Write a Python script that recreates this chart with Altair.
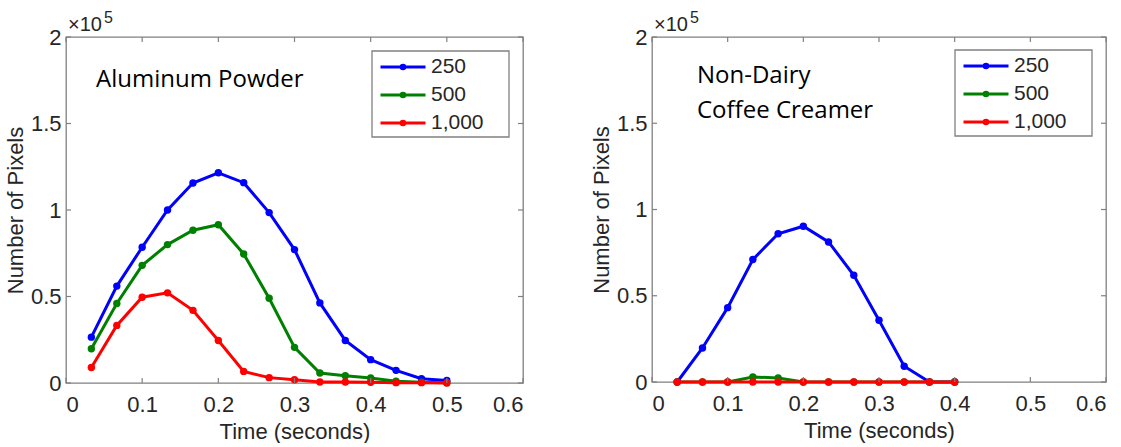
import altair as alt
import pandas as pd

# ---------------- data ----------------
time_s = [0.0333, 0.0667, 0.1, 0.1333, 0.1667, 0.2, 0.2333, 0.2667, 0.3,
          0.3333, 0.3667, 0.4, 0.4333, 0.4667, 0.5]
series_names = ["250", "500", "1,000"]
series_colors = ["#0000ff", "#008000", "#ff0000"]

# Aluminum Powder (pixels)
al_250 = [26500, 56000, 78500, 100000, 115600, 121500, 115800, 98500, 77100,
          46300, 24600, 13500, 7300, 2500, 1500]
al_500 = [19800, 46000, 68000, 80000, 88300, 91500, 74600, 49000, 20600,
          5800, 4200, 2900, 1000, 400, 200]
al_1000 = [9000, 33300, 49600, 52100, 42000, 24600, 6700, 3100, 1900,
           600, 600, 400, 200, 200, 0]

# Non-Dairy Coffee Creamer (pixels)
cr_time = time_s[:12]
cr_250 = [0, 19700, 43100, 71000, 85900, 90300, 81200, 61900, 35800, 9100, 0, 0]
cr_500 = [0, 0, 0, 2900, 2300, 0, 0, 0, 0, 0, 0, 0]
cr_1000 = [0, 0, 0, 0, 0, 0, 0, 0, 0, 0, 0, 0]

x_ticks = [0, 0.1, 0.2, 0.3, 0.4, 0.5, 0.6]
y_ticks = [0, 50000, 100000, 150000, 200000]

left_note = ["Aluminum Powder"]
right_note = ["Non-Dairy", "Coffee Creamer"]


def long_df(times, series):
    rows = []
    for name, vals in zip(series_names, series):
        for t, v in zip(times, vals):
            rows.append({"t": t, "px": v, "series": name})
    return pd.DataFrame(rows)


df_left = long_df(time_s, [al_250, al_500, al_1000])
df_right = long_df(cr_time, [cr_250, cr_500, cr_1000])

LABEL_FONT = "Liberation Sans"
TXT = "#262626"
FRAME = "#808080"
FS = 22

sym_path = ("M-1,0L1,0M0.08,0A0.08,0.08,0,1,1,-0.08,0"
            "A0.08,0.08,0,1,1,0.08,0Z")


def panel(df, note_lines, note_x, note_y, leg_x, leg_y, W, H):
    xenc = alt.X("t:Q", scale=alt.Scale(domain=[0, 0.6], nice=False, zero=False),
                 axis=alt.Axis(values=x_ticks, format="~g", title="Time (seconds)",
                               grid=False, domain=False, ticks=False, tickSize=0,
                               labelFont=LABEL_FONT, labelFontSize=FS,
                               labelColor=TXT, labelPadding=11,
                               titleFont=LABEL_FONT, titleFontSize=FS,
                               titleFontWeight="normal", titleColor=TXT,
                               titlePadding=6))
    yenc = alt.Y("px:Q", scale=alt.Scale(domain=[0, 200000], nice=False),
                 axis=alt.Axis(values=y_ticks,
                               labelExpr="format(datum.value / 100000, '~g')",
                               title="Number of Pixels", grid=False,
                               domain=False, ticks=False, tickSize=0,
                               labelFont=LABEL_FONT, labelFontSize=FS,
                               labelColor=TXT, labelPadding=5,
                               titleFont=LABEL_FONT, titleFontSize=FS,
                               titleFontWeight="normal", titleColor=TXT,
                               titlePadding=3))
    cscale = alt.Scale(domain=series_names, range=series_colors)
    legend = alt.Legend(
        title=None, orient="none", legendX=leg_x, legendY=leg_y,
        strokeColor="transparent", padding=7, cornerRadius=0,
        symbolType=sym_path, symbolSize=2025, symbolStrokeWidth=3,
        clipHeight=20,
        labelFont=LABEL_FONT, labelFontSize=21, labelColor=TXT,
        labelOffset=4, rowPadding=7,
    )

    box = alt.Chart(pd.DataFrame({"k": [0]})).mark_rect(
        fill="white", stroke=FRAME, strokeWidth=1.3
    ).encode(x=alt.value(leg_x), x2=alt.value(leg_x + 137),
             y=alt.value(leg_y + 1), y2=alt.value(leg_y + 87))

    layers = [box]
    for i, name in enumerate(series_names):
        sub = alt.Chart(df).transform_filter(alt.datum.series == name)
        line = sub.mark_line(strokeWidth=3).encode(
            x=xenc if i == 0 else alt.X("t:Q"),
            y=yenc if i == 0 else alt.Y("px:Q"),
            color=alt.Color("series:N", scale=cscale,
                            legend=legend if i == 0 else None))
        pts = sub.mark_circle(size=55, opacity=1).encode(
            x=alt.X("t:Q"), y=alt.Y("px:Q"),
            color=alt.Color("series:N", scale=cscale, legend=None))
        layers += [line, pts]

    xt = pd.DataFrame({"t": x_ticks})
    yt = pd.DataFrame({"px": y_ticks})
    tick_style = dict(color=FRAME, strokeWidth=1.2)
    xb = alt.Chart(xt).mark_rule(**tick_style).encode(
        x=alt.X("t:Q"), y=alt.value(H), y2=alt.value(H - 5))
    xtop = alt.Chart(xt).mark_rule(**tick_style).encode(
        x=alt.X("t:Q"), y=alt.value(0), y2=alt.value(5))
    yl = alt.Chart(yt).mark_rule(**tick_style).encode(
        y=alt.Y("px:Q"), x=alt.value(0), x2=alt.value(5))
    yr = alt.Chart(yt).mark_rule(**tick_style).encode(
        y=alt.Y("px:Q"), x=alt.value(W), x2=alt.value(W - 5))

    note = alt.Chart(pd.DataFrame({"label": ["\n".join(note_lines)]})).mark_text(
        align="left", baseline="middle", font="Open Sans", fontSize=24,
        color="black", lineBreak="\n", lineHeight=35,
    ).encode(x=alt.value(note_x), y=alt.value(note_y), text="label:N")

    mult = alt.Chart(pd.DataFrame({"label": ["\u00d710"]})).mark_text(
        align="left", baseline="alphabetic", font=LABEL_FONT, fontSize=20,
        color=TXT).encode(x=alt.value(2), y=alt.value(-6), text="label:N")
    expo = alt.Chart(pd.DataFrame({"label": ["5"]})).mark_text(
        align="left", baseline="alphabetic", font=LABEL_FONT, fontSize=16,
        color=TXT).encode(x=alt.value(38), y=alt.value(-14), text="label:N")

    return alt.layer(*layers, xb, xtop, yl, yr, note, mult, expo).properties(
        width=W, height=H)


left = panel(df_left, left_note, 30, 43, 306, 13, 457, 346)
right = panel(df_right, right_note, 45, 39, 303, 12, 454, 345)

chart = alt.hconcat(left, right, spacing=129, bounds="flush").resolve_scale(
    color="independent", x="independent", y="independent"
).resolve_legend(color="independent").properties(
    padding={"left": 3, "top": 9, "right": 0, "bottom": 0},
    background="white",
).configure_view(stroke=FRAME, strokeWidth=1.3)

chart.save("out.html", embed_options={"renderer": "svg", "actions": False})
